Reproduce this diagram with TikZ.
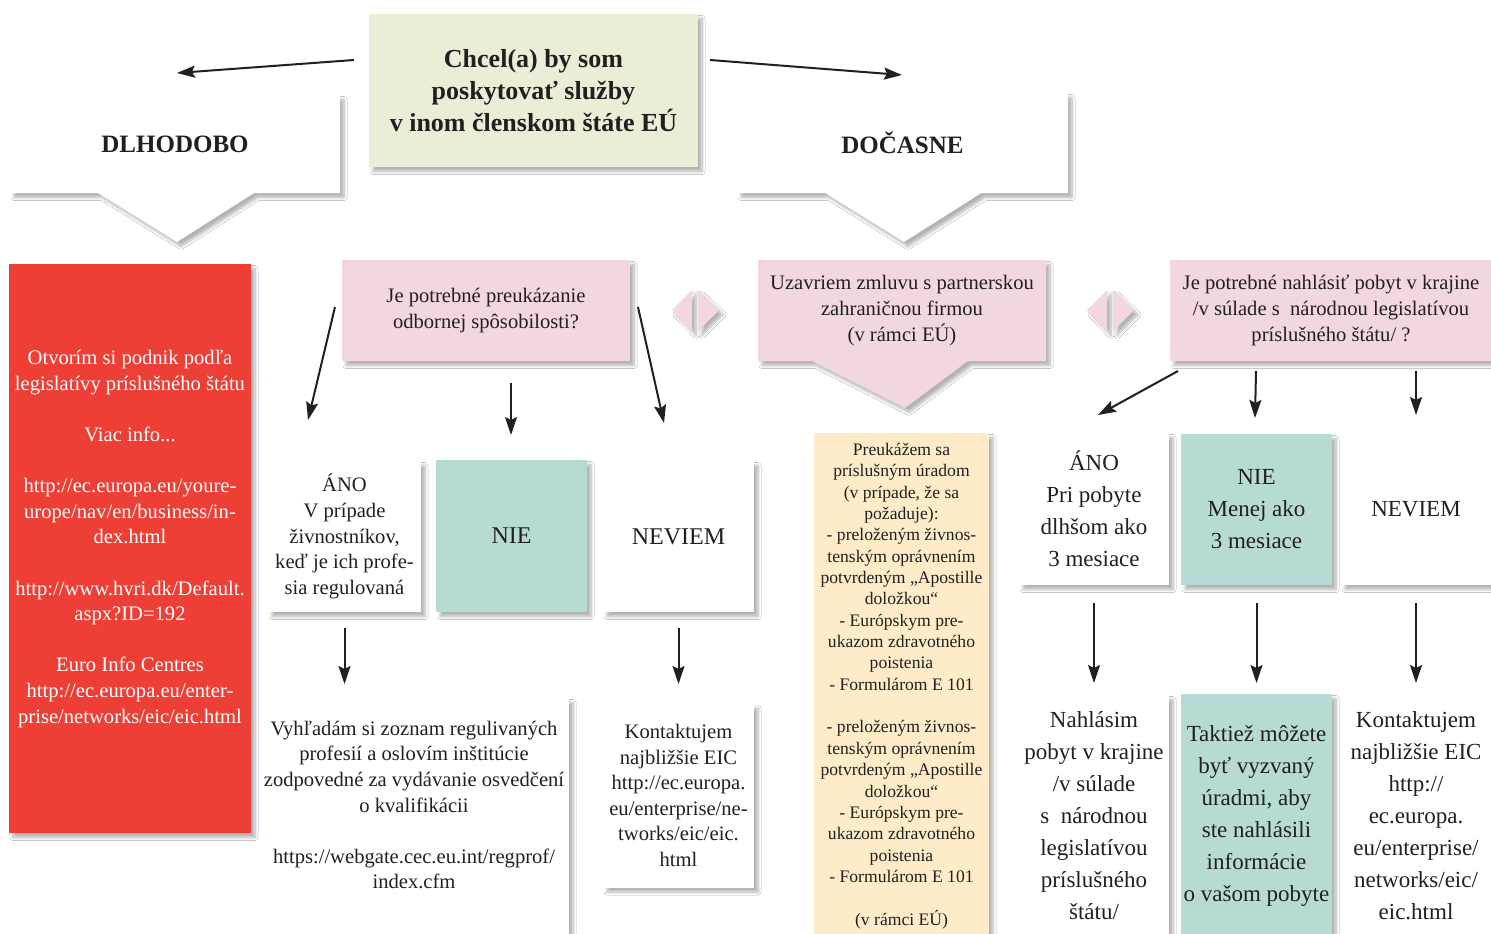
\documentclass[tikz,border=0pt]{standalone}
\usepackage{fontspec}
\setmainfont{Liberation Serif}
\usetikzlibrary{shapes.callouts,shadows.blur,arrows.meta}
\definecolor{txt}{HTML}{231F20}
\definecolor{topbox}{HTML}{EBEDD6}
\definecolor{pinkbox}{HTML}{F2D6E1}
\definecolor{redbox}{HTML}{EE3F36}
\definecolor{tealbox}{HTML}{B5DBD4}
\definecolor{yellowbox}{HTML}{FEECC8}
\tikzset{
  shad/.style={blur shadow={shadow xshift=4pt,shadow yshift=-4.5pt,shadow blur radius=3pt,shadow blur steps=8,shadow opacity=30}},
  box/.style={rectangle, inner sep=0pt, align=center, text=txt, shad},
  tbox/.style={inner sep=0pt, align=center, text=txt},
  arr/.style={-{Stealth[length=18pt,width=12pt,inset=3pt]}, line width=2pt, draw=txt},
  fbig/.style={font=\fontsize{26}{32}\selectfont\bfseries},
  fhead/.style={font=\fontsize{25}{30}\selectfont\bfseries},
  fmid/.style={font=\fontsize{20.6}{25.6}\selectfont},
  flab/.style={font=\fontsize{24}{30}\selectfont},
  fsmall/.style={font=\fontsize{17.6}{21.36}\selectfont},
  fr/.style={font=\fontsize{23}{32}\selectfont},
  callbox/.style={rectangle callout, inner sep=0pt, align=center, text=txt, shad, callout pointer width=156pt},
}
\begin{document}
\begin{tikzpicture}[x=1pt,y=-1pt]
\path[use as bounding box, fill=white] (0,0) rectangle (1491,934);

% top
\node[box, fill=topbox, minimum width=329pt, minimum height=153pt, fbig] (chcel) at (533.5,90.5)
  {Chcel(a) by som\\poskytovať služby\\v inom členskom štáte EÚ};

\node[callbox, fill=white, minimum width=330pt, minimum height=98pt, fhead, callout absolute pointer={(177,242)}] (dlho) at (175,144) {DLHODOBO};
\node[callbox, fill=white, minimum width=331pt, minimum height=100pt, fhead, callout absolute pointer={(904,242)}] (doc) at (902.5,143) {DOČASNE};

\coordinate (tl) at (177,73);
\coordinate (tr) at (902,75);
\draw[arr] (354,60) coordinate (tls) -- (tl);
\draw[arr] (710,60) coordinate (trs) -- (tr);

% left column red
\node[box, fill=redbox, minimum width=242pt, minimum height=569pt] (red) at (130,548.5) {};
\node[tbox, text=white, fmid] (redtxt) at (130,539)
  {Otvorím si podnik podľa\\legislatívy príslušného štátu\\[25.6pt]Viac info...\\[25.6pt]http://ec.europa.eu/youre-\\urope/nav/en/business/in-\\dex.html\\[25.6pt]http://www.hvri.dk/Default.\\aspx?ID=192\\[25.6pt]Euro Info Centres\\http://ec.europa.eu/enter-\\prise/networks/eic/eic.html};

% pink 1
\node[box, fill=pinkbox, minimum width=288pt, minimum height=101pt, fmid] (p1) at (486,310.5)
  {Je potrebné preukázanie\\odbornej spôsobilosti?};

% diamonds
\fill[pinkbox, shad] (672,310) -- (692,290) -- (692,331) -- cycle;
\fill[pinkbox, shad] (698,290) -- (719,310) -- (698,331) -- cycle;
\fill[pinkbox, shad] (1087,310) -- (1107,290) -- (1107,331) -- cycle;
\fill[pinkbox, shad] (1113,290) -- (1134,310) -- (1113,331) -- cycle;

% pink 2
\node[callbox, fill=pinkbox, minimum width=288pt, minimum height=101pt, fmid, callout absolute pointer={(905,408)}] (p2) at (902,310.5)
  {Uzavriem zmluvu s partnerskou\\zahraničnou firmou\\(v rámci EÚ)};

% pink 3
\node[box, fill=pinkbox, minimum width=322pt, minimum height=101pt, fmid] (p3) at (1331,310.5)
  {Je potrebné nahlásiť pobyt v krajine\\/v súlade s\enspace národnou legislatívou\\príslušného štátu/ ?};

% left row
\node[box, fill=white, minimum width=153pt, minimum height=151pt, fmid] (ano1) at (344.5,536.5)
  {ÁNO\\V prípade\\živnostníkov,\\keď je ich profe-\\sia regulovaná};
\node[box, fill=tealbox, minimum width=151pt, minimum height=152pt, flab] (nie1) at (511.5,536) {NIE};
\node[box, fill=white, minimum width=151pt, minimum height=151pt, flab] (nev1) at (678.5,536.5) {NEVIEM};

\coordinate (a1) at (308,420);
\coordinate (a2) at (511,435);
\coordinate (a3) at (664,423);
\draw[arr] (335,307) coordinate (a1s) -- (a1);
\draw[arr] (511,383) coordinate (a2s) -- (a2);
\draw[arr] (638,307) coordinate (a3s) -- (a3);

% left bottom
\node[box, fill=white, minimum width=309pt, minimum height=245pt] (vyh) at (414.5,820.5) {};
\node[tbox, fmid] (vyhtxt) at (414,805)
  {Vyhľadám si zoznam regulivaných\\profesií a oslovím inštitúcie\\zodpovedné za vydávanie osvedčení\\o kvalifikácii\\[25.6pt]https://webgate.cec.eu.int/regprof/\\index.cfm};
\node[box, fill=white, minimum width=151pt, minimum height=184pt, fmid] (kon1) at (678.5,795.5)
  {Kontaktujem\\najbližšie EIC\\http://ec.europa.\\eu/enterprise/ne-\\tworks/eic/eic.\\html};

\draw[arr] (ano1.south |- 0,628) -- (ano1.south |- 0,684) coordinate (b1);
\draw[arr] (nev1.south |- 0,628) -- (nev1.south |- 0,684) coordinate (b2);

% yellow
\node[box, fill=yellowbox, minimum width=175pt, minimum height=506pt, fsmall] (yel) at (901.5,686)
  {Preukážem sa\\príslušným úradom\\(v prípade, že sa\\požaduje):\\- preloženým živnos-\\tenským oprávnením\\potvrdeným „Apostille\\doložkou“\\- Európskym pre-\\ukazom zdravotného\\poistenia\\- Formulárom E 101\\[21.36pt]- preloženým živnos-\\tenským oprávnením\\potvrdeným „Apostille\\doložkou“\\- Európskym pre-\\ukazom zdravotného\\poistenia\\- Formulárom E 101\\[21.36pt](v rámci EÚ)};

% right row
\node[box, fill=white, minimum width=150pt, minimum height=152pt, fr] (ano2) at (1094,509)
  {ÁNO\\Pri pobyte\\dlhšom ako\\3 mesiace};
\node[box, fill=tealbox, minimum width=151pt, minimum height=151pt, fr] (nie2) at (1256.5,509.5)
  {NIE\\Menej ako\\3 mesiace};
\node[box, fill=white, minimum width=150pt, minimum height=151pt, fr] (nev2) at (1416,509.5) {NEVIEM};

\coordinate (c1) at (1098,415);
\coordinate (c2) at (1255,418);
\coordinate (c3) at (1416,415);
\draw[arr] (1178,371) coordinate (c1s) -- (c1);
\draw[arr] (1256,371) coordinate (c2s) -- (c2);
\draw[arr] (1416,371) coordinate (c3s) -- (c3);

% right bottom
\node[box, fill=white, minimum width=150pt, minimum height=242pt, fr] (nah) at (1094,816)
  {Nahlásim\\pobyt v krajine\\/v súlade\\s\enspace národnou\\legislatívou\\príslušného\\štátu/};
\node[box, fill=tealbox, minimum width=151pt, minimum height=244pt, fr] (tak) at (1256.5,816)
  {Taktiež môžete\\byť vyzvaný\\úradmi, aby\\ste nahlásili\\informácie\\o vašom pobyte};
\node[box, fill=white, minimum width=150pt, minimum height=242pt, fr] (kon2) at (1416,816)
  {Kontaktujem\\najbližšie EIC\\http://\\ec.europa.\\eu/enterprise/\\networks/eic/\\eic.html};

\draw[arr] (ano2.south |- 0,603) -- (ano2.south |- 0,683) coordinate (d1);
\draw[arr] (nie2.south |- 0,603) -- (nie2.south |- 0,683) coordinate (d2);
\draw[arr] (nev2.south |- 0,603) -- (nev2.south |- 0,683) coordinate (d3);
\end{tikzpicture}
\end{document}
